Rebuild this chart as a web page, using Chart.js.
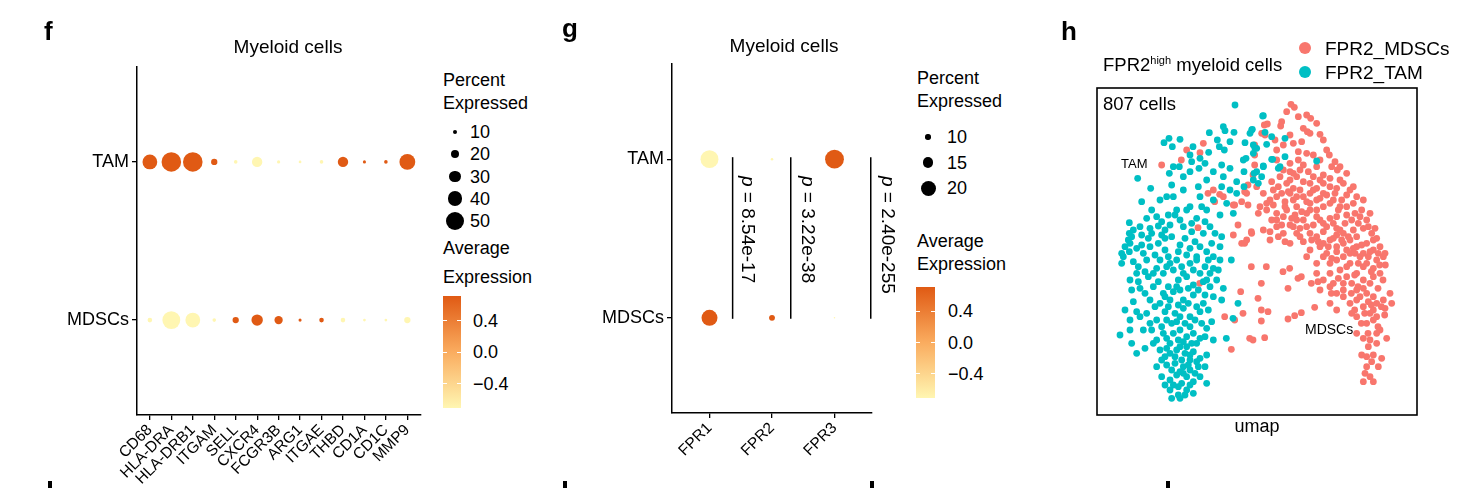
<!DOCTYPE html>
<html>
<head>
<meta charset="utf-8">
<script src="https://cdn.jsdelivr.net/npm/chart.js@4.4.1/dist/chart.umd.min.js"></script>
<style>
  body { margin: 0; background: #fff; }
  #fig { position: relative; width: 1480px; height: 488px; overflow: hidden;
         font-family: 'Liberation Sans', Arial, Helvetica, sans-serif; color: #000; }
  #fig canvas, .t, .dot, .bar, .stub { position: absolute; }
  .t { line-height: 1; white-space: nowrap; }
  .dot { border-radius: 50%; }
  .stub { background: #000; width: 4px; height: 8px; top: 481px; }
</style>
</head>
<body>
<div id="fig">
  <canvas id="chartF" width="430" height="488" style="left:0;top:0"></canvas>
  <canvas id="chartG" width="330" height="488" style="left:560px;top:0"></canvas>
  <canvas id="chartH" width="335" height="345" style="left:1090px;top:80px"></canvas>
</div>
<script>
// ---------- data ----------
const groups = ['MDSCs', 'TAM'];   // y = 0, 1

// panel f
const genesF = ['CD68', 'HLA-DRA', 'HLA-DRB1', 'ITGAM', 'SELL', 'CXCR4', 'FCGR3B',
                'ARG1', 'ITGAE', 'THBD', 'CD1A', 'CD1C', 'MMP9'];
const pctTamF  = [40, 54, 54, 15, 7, 27, 6, 4.5, 7, 27, 5.5, 7, 43];
const pctMdscF = [10, 49, 40, 7, 15, 30, 21, 5.5, 10, 10, 4.5, 4.5, 15];
const avgTamF  = [0.71, 0.71, 0.71, 0.71, -0.71, -0.71, -0.71, -0.71, -0.71, 0.71, 0.71, 0.71, 0.71];
const avgMdscF = [-0.71, -0.71, -0.71, -0.71, 0.71, 0.71, 0.71, 0.71, 0.71, -0.71, -0.71, -0.71, -0.71];

// panel g
const genesG = ['FPR1', 'FPR2', 'FPR3'];
const pctTamG  = [23, 7, 24];
const pctMdscG = [21, 10.5, 6];
const avgTamG  = [-0.71, -0.71, 0.71];
const avgMdscG = [0.71, 0.71, -0.71];
const pValuesG = ['8.54e-17', '3.22e-38', '2.40e-255'];

// legend keys
const sizeKeysF = [10, 20, 30, 40, 50];
const sizeKeysG = [10, 15, 20];
const colorKeys = [0.4, 0.0, -0.4];

// panel h (umap coordinates, arbitrary units)
const cellCount = 807;
const tamUmap = [[43.5,-1.5],[51.8,-4.8],[40,-8],[40.5,-9.2],[35.8,-9.8],[43.2,-9.7],[48.7,-8.8],[48,-10],
  [23.7,-11.5],[22.2,-12.8],[27,-11.8],[24.7,-14],[30.9,-14],[30,-16.5],[38.2,-12],[38.8,-14],[42,-12.5],
  [35.6,-15.7],[40.3,-15],[46.5,-12.8],[49,-13.5],[50,-14.5],[54.5,-11],[58.5,-11.5],[46.8,-17.5],[49,-16],
  [54.8,-17.8],[58.5,-17],[68,-18.3],[26.8,-20],[30.5,-18.5],[33,-17.5],[34.5,-19],[23.8,-22],[30,-21.5],
  [32.7,-20.5],[37,-21.5],[35,-24],[39.5,-19.5],[42,-20.5],[46.2,-21.5],[44,-24.5],[52,-20],[50,-21.5],
  [49,-24],[56.5,-20.5],[14.3,-23.5],[18.2,-26.5],[24.5,-25.5],[32.5,-26],[39.5,-26],[42,-27],[44,-28],
  [46.2,-26],[15.5,-30.5],[21,-30],[25,-29],[26,-33],[29,-33],[30,-32],[33.5,-32],[35,-33],[23.5,-34.5],
  [25.5,-34.5],[18.5,-33],[21.5,-36.5],[24,-37.5],[27,-36],[32,-35.5],[34.5,-36.5],[36,-38],[39,-34.5],
  [11.8,-36.8],[15,-38],[18,-38.5],[20.5,-37.8],[11.8,-40],[12.5,-41],[11.5,-42],[15.5,-40.5],[18.5,-40],
  [21.5,-40.5],[22.5,-41.5],[20.5,-43],[24.5,-41],[28.5,-41.5],[30.5,-39.5],[34,-40],[37.5,-40],[39.5,-41],
  [15.5,-43.5],[14,-44.5],[10,-47],[11.8,-45.5],[9.5,-49],[17,-48],[19.5,-46.5],[23.5,-47],[24,-49],
  [26.5,-45.5],[30,-44.5],[33,-44],[35,-45.5],[36.5,-43],[39,-44],[14.5,-50],[16.5,-51.5],[20,-50.5],
  [22,-52],[25,-51],[27.5,-50],[30,-49],[32,-48],[34.5,-50],[36,-52],[39,-48],[38.5,-51],[42.4,-48],
  [12,-54],[14.5,-54.5],[17.5,-53],[20.5,-54.5],[23.5,-56],[26.5,-54],[29,-53],[31,-55.5],[34,-54.5],
  [36,-56],[38,-54],[40,-56.5],[16.5,-58],[13,-60.5],[18,-60],[19.5,-62],[22.5,-59],[25,-57.5],[28,-60],
  [31,-58.5],[34.5,-58.5],[37,-59],[39.5,-60],[44.4,-61],[42.9,-65.5],[9,-70.5],[12.5,-73],[14,-76],
  [12,-66],[15,-65],[17,-64],[20,-66],[22.5,-63.5],[25.5,-64],[28,-62.5],[30,-65],[33,-63.5],[35.5,-63],
  [18.5,-69],[21.5,-68],[24.5,-67],[27,-69],[30,-68],[33.5,-67],[36.5,-66.5],[40.9,-71.5],[20,-72],
  [23,-71.5],[25,-70],[26.5,-72],[29,-71],[32,-73],[34.5,-71],[37,-72],[16.5,-74.5],[21,-75],[24,-76],
  [27,-74],[28.5,-76],[31,-75.5],[33,-77.5],[35,-76.5],[20,-80],[23,-79.5],[25.5,-79],[28,-80],[30,-81],
  [32.5,-80],[34.5,-80],[21.5,-83],[24,-84],[26,-82.5],[29,-83],[31,-84.5],[33,-83],[24,-87],[26.5,-86],
  [29,-87],[31,-88],[28.5,-88.5],[24.5,-89.5],[26.5,-88.5],[35,-85],
  [23,-29],[28,-27],[12,-43],[16,-46],[21,-48],[26,-48],[28,-52],[33,-52],[24,-60],[27,-65],[24,-73],
  [26,-75],[29,-74],[31,-70],[28,-82],[30,-78],[22.5,-77],[19,-56],[34,-61],[26,-56],[14,-52],[9.5,-46],
  [33,-29],[37,-30],[41,-31],[43,-34],[25,-20],[28,-23],[40,-23],[46,-18],
  [52,-4.7],[48.5,-9],[52.5,-9.7],[53,-13.3],[49.5,-14.5],[54.5,-17.8],[52,-19.8],[57,-20],[49.2,-22],
  [51.5,-23],[50.5,-25],
  [22,-58],[27,-57],[29.5,-56.5],[32.5,-57],[35,-54],[21,-61],[23.5,-62],[26.5,-61.5],[29.5,-61],[32,-62],
  [18,-67],[23,-66],[26,-66.5],[28.5,-67],[31.5,-66],[35,-68.5],[22,-70],[28,-72.5],[30.5,-73],[33,-71.5],
  [19,-73],[23,-74.5],[25.5,-77],[27.5,-78],[30,-76.5],[32,-78.5],[21.5,-78],[24.5,-81],[27,-81.5],
  [29.5,-79.5],[31.5,-82],[22.5,-85.5],[25,-85.5],[27.5,-85],[30,-85.5],[27,-89.5],[13,-48.5],[18,-44],
  [22.5,-45],[27,-43.5],[31.5,-42.5],[29,-46.5],[32,-47],[37,-47],[17,-35.5],[20,-35],[28,-38],[30.5,-37],
  [22.5,-39],[13,-39],[10.5,-44],[17.5,-41.5],[19,-52],[23,-50],[31,-51],[35.5,-48],[37,-50.5],[12.5,-57],
  [15,-56.5],[10.5,-63],[14,-63.5],[16,-69],[12,-69]];
const mdscUmap = [[60.3,-1.3],[61.3,-2.2],[65,-4.5],[66.2,-5.5],[65.2,-9.5],[66,-10],[69,-10.3],[52.3,-7.5],
  [53.2,-7.2],[57.5,-6.5],[57.2,-7.8],[64,-8.5],[51.5,-10],[52.5,-10.5],[55.5,-12],[60,-10.5],[34,-13],
  [29,-15],[33,-15.8],[21.5,-19.5],[27.4,-18],[62.5,-15.5],[65,-16],[71,-15],[71.8,-16.5],[56,-18],[60,-19],
  [62.5,-18],[64,-19.5],[65.5,-21.5],[68,-20],[70,-22.5],[73.5,-18.5],[74.2,-21],[77,-22],[58,-21],[60,-21.5],
  [62,-23],[54.5,-24.5],[56.5,-26],[59,-25],[61,-26.5],[64,-24.5],[66,-25],[68,-26.5],[70,-25],[72,-26],
  [76,-25],[78,-27],[80,-29],[82,-30],[73.5,-28],[75.5,-30],[37,-27],[40,-29],[43,-31.5],[45.5,-30.5],
  [47,-28],[50,-26],[52,-28],[54,-30],[56,-29],[58.5,-30.5],[61,-30],[64,-29],[66,-31],[68,-30],[70,-32],
  [72,-31],[74.5,-33],[77,-32],[79.5,-34],[81.5,-33],[84,-34],[83,-36],[50.5,-34],[53,-33],[56,-34],
  [59,-33],[61.5,-34.5],[65,-34],[68,-35],[70,-37],[72,-35.5],[74,-38.5],[76.5,-37],[79,-39],[82,-38.5],
  [84.5,-40],[52,-39],[54,-39.5],[56,-38],[60,-37.5],[62,-40],[65,-38],[68,-41],[70,-39.5],[72,-42],
  [74,-40.5],[76,-43],[78,-42],[80,-44],[83,-43],[85,-45],[87,-44],[43,-40.5],[45.5,-43],[47,-42],
  [48.5,-40],[60,-43],[64,-42.5],[66,-45],[69,-44],[71,-46],[74,-45.5],[76,-47],[78,-49],[81,-47],[83,-49],
  [85,-50.5],[88,-47],[88.5,-46],[65,-47],[68,-49],[72,-49],[75,-51],[77,-53],[80,-52],[82,-54],[85,-53],
  [87,-52],[48.4,-50],[52.9,-50],[57.9,-51.5],[59.9,-50.5],[63.4,-53],[62.4,-53.5],[59.4,-56.5],[51.4,-55],
  [68,-52],[70,-54],[72,-56],[74,-58],[76,-59],[78,-61],[80,-60],[83,-58],[85,-59],[88,-60],[90,-58],
  [90.5,-61],[66.4,-55],[68.4,-54.5],[69,-57],[32.9,-55],[45.2,-57.5],[50.4,-59.5],[40.4,-65],[43.4,-66],
  [45.9,-64],[51.4,-63],[53.4,-63.5],[51.4,-66.3],[59.4,-65.7],[61.4,-64.7],[63.4,-63.8],[67.4,-62.2],
  [72,-61],[74,-63],[82,-62],[84,-64],[86,-65],[88.5,-62.5],[83,-67],[85,-66],[87,-69],[86,-70],[89,-71.5],
  [80,-70],[82,-71.5],[84,-72],[86,-73],[47.9,-71.5],[48.9,-72],[52.4,-71.3],[42.4,-74.8],[81.5,-76.5],
  [83,-77],[85,-76.5],[87.5,-77.5],[83,-80],[82.5,-82],[84,-83],[85,-84.5],[82,-84.5],
  [60,-24],[63,-27],[66,-28],[70,-28],[62,-32],[68,-33],[74,-35],[76,-40],[80,-41],[74,-44],[78,-46],
  [82,-46],[70,-47],[72,-52],[76,-55],[82,-50],[56,-36],[58,-40],[62,-36],[60,-28],[57,-23],[75,-24],
  [79,-31],[85,-42],[86,-48],[80,-57],[64,-36],[66,-40],[70,-43],
  [49.4,-13.5],[49.4,-16.5],[49.4,-19.5],[48.9,-22.5],[47.4,-25.5],[46.4,-27.5],[35.4,-28],[38.9,-28.3],
  [37.4,-30.5],[43.4,-31.5],[47.4,-31.5],[44.4,-37.5],[48.4,-39.5],[32.4,-38.3],[46.4,-43],
  [79.4,-52.5],[80.4,-56],[84.4,-51.5],[86.9,-49.5],[88.6,-49.5],[72.4,-58],[78.4,-58],[86.4,-56.5],
  [87.9,-54],[79.4,-63],[82.4,-64],[84.4,-61.5],[87.4,-62],[88.4,-64.5],[81.4,-67],[83.4,-70],[86.4,-68],
  [55,-27],[57.5,-28],[59.5,-27.5],[62,-29],[65,-30.5],[67,-27],[69,-29.5],[71,-28.5],[73,-30],[75,-32],
  [77,-34.5],[78.5,-36],[80.5,-37],[81,-35],[83.5,-38],[85.5,-38.5],[86,-41.5],[84,-45.5],[81.5,-43.5],
  [79,-44.5],[77.5,-41],[75,-39],[73,-37],[71,-38],[69,-36],[67,-37.5],[66,-33],[63.5,-33.5],[60.5,-35.5],
  [58,-35],[55,-31.5],[53,-31],[51,-32],[54.5,-36],[57.5,-37.5],[63,-38.5],[66.5,-42],[68.5,-42.5],
  [71.5,-44],[73,-41.5],[75.5,-42],[77,-45],[79.5,-46],[80.5,-49],[77,-50],[74,-48],[72.5,-47.5],
  [83.5,-47],[86.5,-46],[84,-55],[82,-56.5],[78.5,-55],[76,-57],[74.5,-53.5],[73,-55],[81,-59],[83.5,-60.5],
  [86,-61],[85,-63],[80,-65],[78.5,-64],[83.5,-74],[84.5,-78.5],[86.5,-80],[61,-22],[63,-21],[67,-23],
  [69,-24],[72,-23.5],[74,-26.5],[77,-28.5],[79,-26],[58.5,-32],[61,-38],[63,-41],[58.5,-42.5],[56.5,-41],
  [54,-42],[67,-16.5],[69,-18],[72.5,-20],[75,-20],[56,-15],[58,-13.5],[61,-13],[63.5,-12.5],[59,-3.5],
  [62.5,-5],[68,-7],[70,-12]];

// ---------- helpers ----------
const fig = document.getElementById('fig');
Chart.defaults.font.family = "'Liberation Sans', Arial, Helvetica, sans-serif";
Chart.defaults.color = '#000';

const LOW = [255, 246, 178], MID = [250, 172, 95], HIGH = [224, 90, 20];
function expColor(v) {
  let t = Math.max(0, Math.min(1, (v + 0.71) / 1.42));
  const a = t < 0.5 ? LOW : MID, b = t < 0.5 ? MID : HIGH, u = t < 0.5 ? t * 2 : (t - 0.5) * 2;
  return 'rgb(' + a.map((c, i) => Math.round(c + (b[i] - c) * u)).join(',') + ')';
}
const radiusF = p => 0.17 * p + 0.6;
const radiusG = p => Math.max(0.48 * p - 2.1, 0.7);

function addText(html, x, base, size, o = {}) {
  const d = document.createElement('div');
  d.className = 't';
  d.innerHTML = html;
  d.style.fontSize = size + 'px';
  d.style.left = x + 'px';
  d.style.top = (base - 0.847 * size) + 'px';
  if (o.bold) d.style.fontWeight = 'bold';
  if (o.center) d.style.transform = 'translateX(-50%)';
  fig.appendChild(d);
  return d;
}
function addDot(cx, cy, r, color) {
  const d = document.createElement('div');
  d.className = 'dot';
  Object.assign(d.style, { left: (cx - r) + 'px', top: (cy - r) + 'px', width: 2 * r + 'px', height: 2 * r + 'px', background: color });
  fig.appendChild(d);
}
function sizeLegend(keys, radius, cx, y0, dy, labelX) {
  keys.forEach((k, i) => {
    const cy = y0 + i * dy;
    addDot(cx, cy, radius(k), '#000');
    addText(String(k), labelX, cy + 6.4, 18);
  });
}
function colorBar(left, top, w, h, labelX) {
  const bar = document.createElement('div');
  bar.className = 'bar';
  Object.assign(bar.style, { left: left + 'px', top: top + 'px', width: w + 'px', height: h + 'px',
    background: 'linear-gradient(to top, ' + expColor(-0.71) + ', ' + expColor(0) + ', ' + expColor(0.71) + ')' });
  fig.appendChild(bar);
  colorKeys.forEach(v => {
    const y = top + (0.71 - v) / 1.42 * h;
    [left, left + w - 4].forEach(x => {
      const tk = document.createElement('div');
      tk.className = 'bar';
      Object.assign(tk.style, { left: x + 'px', top: (y - 0.5) + 'px', width: '4px', height: '1px', background: '#fff' });
      fig.appendChild(tk);
    });
    addText(v < 0 ? '\u2212' + Math.abs(v).toFixed(1) : v.toFixed(1), labelX, y + 6.4, 18);
  });
}

const axisGrid = { drawOnChartArea: false, drawTicks: true, tickLength: 5, color: '#000', lineWidth: 1.3 };
const axisBorder = { display: true, color: '#000', width: 1.5 };

function dotPlot(id, genes, pctTam, pctMdsc, avgTam, avgMdsc, radius, opt) {
  const pts = [], cols = [];
  genes.forEach((g, i) => {
    pts.push({ x: i, y: 1, r: radius(pctTam[i]) });  cols.push(expColor(avgTam[i]));
    pts.push({ x: i, y: 0, r: radius(pctMdsc[i]) }); cols.push(expColor(avgMdsc[i]));
  });
  return new Chart(document.getElementById(id), {
    type: 'bubble',
    data: { datasets: [{ data: pts, backgroundColor: cols, borderWidth: 0 }] },
    options: {
      responsive: false, animation: false, events: [],
      layout: { padding: opt.padding },
      plugins: { legend: { display: false }, tooltip: { enabled: false } },
      scales: {
        x: {
          type: 'linear', min: -0.6, max: genes.length - 0.4,
          afterBuildTicks: s => { s.ticks = genes.map((g, i) => ({ value: i })); },
          afterFit: s => { s.height = opt.xh; },
          ticks: { autoSkip: false, minRotation: 45, maxRotation: 45, padding: 1, font: { size: 15.5 }, color: '#000',
                   callback: v => genes[v] },
          grid: axisGrid, border: axisBorder
        },
        y: {
          type: 'linear', min: -0.6, max: 1.6,
          afterBuildTicks: s => { s.ticks = [{ value: 0 }, { value: 1 }]; },
          afterFit: s => { s.width = opt.yw; },
          ticks: { font: { size: 18 }, color: '#000', padding: 3, callback: v => groups[v] },
          grid: axisGrid, border: axisBorder
        }
      }
    },
    plugins: opt.plugins || []
  });
}

// ---------- panel f ----------
dotPlot('chartF', genesF, pctTamF, pctMdscF, avgTamF, avgMdscF, radiusF,
        { padding: { top: 67, right: 7, left: 0, bottom: 0 }, xh: 73, yw: 137 });
addText('f', 44, 40, 26, { bold: true });
addText('Myeloid cells', 288, 53, 19, { center: true });
addText('Percent', 443, 86.5, 18);
addText('Expressed', 443, 109.5, 18);
sizeLegend(sizeKeysF, radiusF, 455, 132, 22.2, 470);
addText('Average', 443, 254.5, 18);
addText('Expression', 443, 283.5, 18);
colorBar(443, 296, 18, 112, 473);

// ---------- panel g ----------
const pLineAt = [0.37, 1.3, 2.58];
const pLines = {
  id: 'pLines',
  afterDatasetsDraw(chart) {
    const { ctx, scales: { x, y } } = chart;
    ctx.save();
    ctx.strokeStyle = '#000';
    ctx.lineWidth = 1.5;
    pLineAt.forEach(v => {
      const px = x.getPixelForValue(v);
      ctx.beginPath();
      ctx.moveTo(px, y.getPixelForValue(1) - 2);
      ctx.lineTo(px, y.getPixelForValue(0) + 1);
      ctx.stroke();
    });
    ctx.restore();
  }
};
dotPlot('chartG', genesG, pctTamG, pctMdscG, avgTamG, avgMdscG, radiusG,
        { padding: { top: 64, right: 18, left: 0, bottom: 0 }, xh: 75, yw: 112, plugins: [pLines] });
addText('g', 562, 37, 26, { bold: true });
addText('Myeloid cells', 784, 52, 19, { center: true });
[757.5, 817.5, 897.5].forEach((x, i) => {
  const d = addText('<i>p</i> = ' + pValuesG[i], x, 0, 19);
  d.style.top = '176px';
  d.style.transformOrigin = '0 0';
  d.style.transform = 'rotate(90deg)';
});
addText('Percent', 917, 84.5, 18);
addText('Expressed', 917, 107.5, 18);
sizeLegend(sizeKeysG, radiusG, 928, 137, 25.5, 947);
addText('Average', 917, 247.5, 18);
addText('Expression', 917, 270.5, 18);
colorBar(916, 287, 19, 111, 948);

// ---------- panel h ----------
const boxBorder = {
  id: 'boxBorder',
  afterDraw(chart) {
    const { ctx, chartArea: a } = chart;
    ctx.save();
    ctx.strokeStyle = '#000';
    ctx.lineWidth = 1.6;
    ctx.strokeRect(a.left, a.top, a.right - a.left, a.bottom - a.top);
    ctx.restore();
  }
};
new Chart(document.getElementById('chartH'), {
  type: 'scatter',
  data: {
    datasets: [
      { label: 'FPR2_TAM', data: tamUmap.map(p => ({ x: p[0], y: p[1] })), backgroundColor: '#00BFC4',
        pointRadius: 3.4, borderWidth: 0 },
      { label: 'FPR2_MDSCs', data: mdscUmap.map(p => ({ x: p[0], y: p[1] })), backgroundColor: '#F8766D',
        pointRadius: 3.4, borderWidth: 0 }
    ]
  },
  options: {
    responsive: false, animation: false, events: [],
    layout: { padding: { left: 7, top: 8, right: 8, bottom: 10 } },
    plugins: { legend: { display: false }, tooltip: { enabled: false } },
    scales: {
      x: { display: false, min: 2.1, max: 98.1 },
      y: { display: false, min: -94.5, max: 3.6 }
    }
  },
  plugins: [boxBorder]
});
addText('h', 1061, 40, 26, { bold: true });
addDot(1305, 48, 6, '#F8766D');
addDot(1305, 72, 6, '#00BFC4');
addText('FPR2_MDSCs', 1325, 55, 19);
addText('FPR2_TAM', 1325, 79, 19);
addText('FPR2<span style="font-size:11px;position:relative;top:-7px">high</span> myeloid cells', 1103, 72, 18.5);
addText(cellCount + ' cells', 1103, 110.5, 18.5);
addText('TAM', 1121, 167.7, 13);
addText('MDSCs', 1305, 334, 14);
addText('umap', 1257, 432, 18, { center: true });

// tops of the next row's panel letters, cut off by the frame
[48, 563, 870, 1166].forEach(x => {
  const s = document.createElement('div');
  s.className = 'stub';
  s.style.left = x + 'px';
  fig.appendChild(s);
});
</script>
</body>
</html>
